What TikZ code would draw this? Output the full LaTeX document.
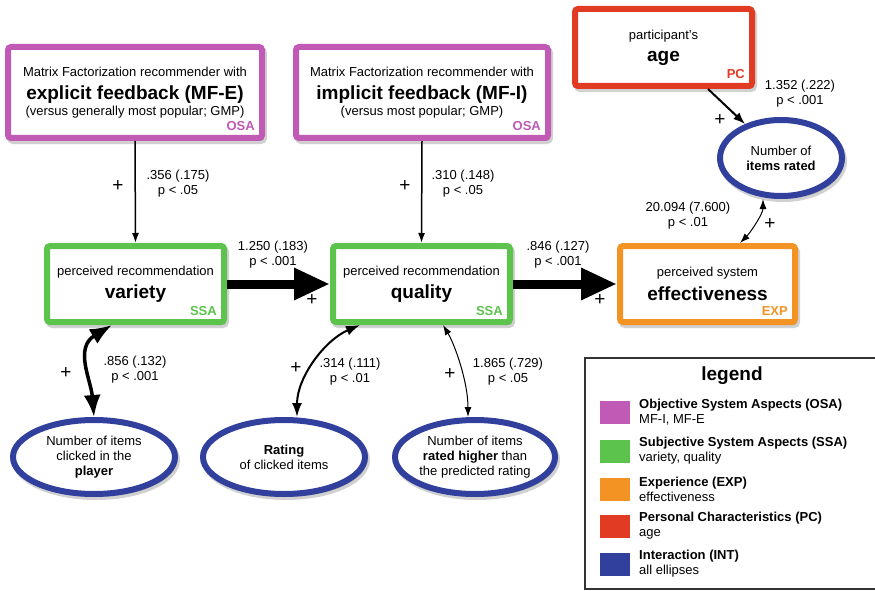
\documentclass[tikz,border=0pt]{standalone}
\usepackage{fontspec}
\setmainfont{Liberation Sans}
\usetikzlibrary{arrows.meta,shadows,shapes.geometric}

\definecolor{osacol}{HTML}{C05AB4}
\definecolor{ssacol}{HTML}{5CC44C}
\definecolor{expcol}{HTML}{F39323}
\definecolor{pccol}{HTML}{E23B24}
\definecolor{intcol}{HTML}{31409C}
\newcommand{\bigb}[1]{{\fontsize{19}{21}\selectfont\bfseries #1}}

\tikzset{
  factor/.style={draw=#1, line width=6pt, rounded corners=3pt, fill=white, align=center, inner sep=0pt,
    drop shadow={draw=black!60, fill=black!60, line width=6pt, opacity=0.3, shadow xshift=2pt, shadow yshift=-3pt},
    font=\fontsize{13}{16}\selectfont},
  latent/.style={ellipse, draw=intcol, line width=6pt, fill=white, align=center, inner sep=0pt,
    drop shadow={draw=black!60, fill=black!60, line width=6pt, opacity=0.3, shadow xshift=2pt, shadow yshift=-3pt},
    font=\fontsize{13}{15}\selectfont},
  tag/.style={text=#1, font=\fontsize{13}{15}\selectfont\bfseries, inner sep=0pt, anchor=base east},
  coef/.style={align=center, font=\fontsize{13}{15}\selectfont, inner sep=0pt},
  sign/.style={font=\fontsize{19}{19}\selectfont, inner sep=0pt},
  link/.style={-{Latex[length=10pt,width=7pt]}, line width=1.5pt},
  heavy/.style={-{Triangle[length=36pt,width=30pt]}, line width=9pt},
  swatch/.style={minimum width=30pt, minimum height=23pt, inner sep=0pt},
  legtext/.style={anchor=west, align=left, font=\fontsize{13}{15}\selectfont, inner sep=0pt}
}

\begin{document}
\begin{tikzpicture}[x=1pt,y=-1pt]
    %%%%% frame %%%%%
    \useasboundingbox (0,0) rectangle (875,591);

    %%%%% objective system aspects %%%%%
    \node[factor=osacol, minimum width=254pt, minimum height=91pt] (mfe) at (135,92.5)
        {Matrix Factorization recommender with\\[7pt]\bigb{explicit feedback (MF-E)}\\(versus generally most popular; GMP)};
    \node[tag=osacol] (mfetag) at ([xshift=-10pt,yshift=10pt]mfe.south east) {OSA};

    \node[factor=osacol, minimum width=252pt, minimum height=91pt] (mfi) at (422,92.5)
        {Matrix Factorization recommender with\\[7pt]\bigb{implicit feedback (MF-I)}\\(versus most popular; GMP)};
    \node[tag=osacol] (mfitag) at ([xshift=-10pt,yshift=10pt]mfi.south east) {OSA};

    %%%%% personal characteristics %%%%%
    \node[factor=pccol, minimum width=177pt, minimum height=77pt] (age) at (663.5,47.5)
        {participant's\\[6pt]\bigb{age}};
    \node[tag=pccol] (agetag) at ([xshift=-10pt,yshift=10pt]age.south east) {PC};

    %%%%% subjective system aspects %%%%%
    \node[factor=ssacol, minimum width=177pt, minimum height=76pt] (variety) at (135.5,284)
        {perceived recommendation\\[6pt]\bigb{variety}};
    \node[tag=ssacol] (varietytag) at ([xshift=-10pt,yshift=10pt]variety.south east) {SSA};

    \node[factor=ssacol, minimum width=177pt, minimum height=76pt] (quality) at (421.5,284)
        {perceived recommendation\\[6pt]\bigb{quality}};
    \node[tag=ssacol] (qualitytag) at ([xshift=-10pt,yshift=10pt]quality.south east) {SSA};

    %%%%% experience %%%%%
    \node[factor=expcol, minimum width=175pt, minimum height=76pt] (eff) at (707.5,284)
        {perceived system\\[6pt]\bigb{effectiveness}};
    \node[tag=expcol] (efftag) at ([xshift=-10pt,yshift=10pt]eff.south east) {EXP};

    %%%%% interaction %%%%%
    \node[latent, minimum width=122pt, minimum height=76pt] (rated) at (781,158)
        {Number of\\\textbf{items rated}};
    \node[latent, minimum width=162pt, minimum height=74pt] (clicked) at (94,457)
        {Number of items\\clicked in the\\\textbf{player}};
    \node[latent, minimum width=162pt, minimum height=74pt] (rating) at (284,457)
        {\textbf{Rating}\\of clicked items};
    \node[latent, minimum width=160pt, minimum height=74pt] (higher) at (475,457)
        {Number of items\\\textbf{rated higher} than\\the predicted rating};

    %%%%% paths %%%%%
    \draw[link] (mfe.south) -- (variety.north);
    \draw[link] (mfi.south) -- (quality.north);
    \draw[heavy] (variety.east) -- (quality.west);
    \draw[heavy] (quality.east) -- (eff.west);
    \draw[-{Latex[length=12pt,width=9pt]}, line width=2pt] ([xshift=44.5pt]age.south) -- (rated);

    \draw[{Latex[length=22pt,width=17pt]}-{Latex[length=22pt,width=17pt]}, line width=3.5pt]
        ([xshift=-23.5pt]variety.south) .. controls +(-38,23) and +(-3,-37) .. (clicked.north);
    \draw[{Latex[length=14pt,width=10pt]}-{Latex[length=14pt,width=10pt]}, line width=2pt]
        ([xshift=-61.5pt]quality.south) .. controls +(-35,15) and +(0,-40) .. ([xshift=13pt]rating.north);
    \draw[{Latex[length=10pt,width=7pt]}-{Latex[length=10pt,width=7pt]}, line width=1pt]
        ([xshift=21.5pt]quality.south) .. controls +(12,20) and +(0,-35) .. ([xshift=-7pt]higher.north);
    \draw[{Latex[length=10pt,width=7pt]}-{Latex[length=10pt,width=7pt]}, line width=1pt]
        ([xshift=-18pt]rated.south) .. controls +(0,15) and +(10,-10) .. ([xshift=32.5pt]eff.north);

    %%%%% coefficients %%%%%
    \node[coef] (c1) at (178,184) {.356 (.175)\\p < .05};
    \node[sign] (s1) at (118,186) {+};
    \node[coef] (c2) at (463,184) {.310 (.148)\\p < .05};
    \node[sign] (s2) at (405,186) {+};
    \node[coef] (c3) at (273,255) {1.250 (.183)\\p < .001};
    \node[sign] (s3) at (312,300) {+};
    \node[coef] (c4) at (558,255) {.846 (.127)\\p < .001};
    \node[sign] (s4) at (600,300) {+};
    \node[coef] (c5) at (800,94) {1.352 (.222)\\p < .001};
    \node[sign] (s5) at (720,120) {+};
    \node[coef] (c6) at (688,216) {20.094 (7.600)\\p < .01};
    \node[sign] (s6) at (770,224) {+};
    \node[coef] (c7) at (135,370) {.856 (.132)\\p < .001};
    \node[sign] (s7) at (66,373) {+};
    \node[coef] (c8) at (350,372) {.314 (.111)\\p < .01};
    \node[sign] (s8) at (296,368) {+};
    \node[coef] (c9) at (508,372) {1.865 (.729)\\p < .05};
    \node[sign] (s9) at (450,374) {+};

    %%%%% legend %%%%%
    \draw[line width=1.5pt, black!80, fill=white] (585,358) rectangle (878,589);
    \node[font=\fontsize{19}{21}\selectfont\bfseries] (legtitle) at (732,376) {legend};

    \node[swatch, fill=osacol] (sw1) at (615,412.5) {};
    \node[legtext] (t1) at (639,412) {\textbf{Objective System Aspects (OSA)}\\MF-I, MF-E};
    \node[swatch, fill=ssacol] (sw2) at (615,451.5) {};
    \node[legtext] (t2) at (639,451) {\textbf{Subjective System Aspects (SSA)}\\variety, quality};
    \node[swatch, fill=expcol] (sw3) at (615,489.5) {};
    \node[legtext] (t3) at (639,489) {\textbf{Experience (EXP)}\\effectiveness};
    \node[swatch, fill=pccol] (sw4) at (615,526.5) {};
    \node[legtext] (t4) at (639,526) {\textbf{Personal Characteristics (PC)}\\age};
    \node[swatch, fill=intcol] (sw5) at (615,564.5) {};
    \node[legtext] (t5) at (639,564) {\textbf{Interaction (INT)}\\all ellipses};
\end{tikzpicture}
\end{document}
